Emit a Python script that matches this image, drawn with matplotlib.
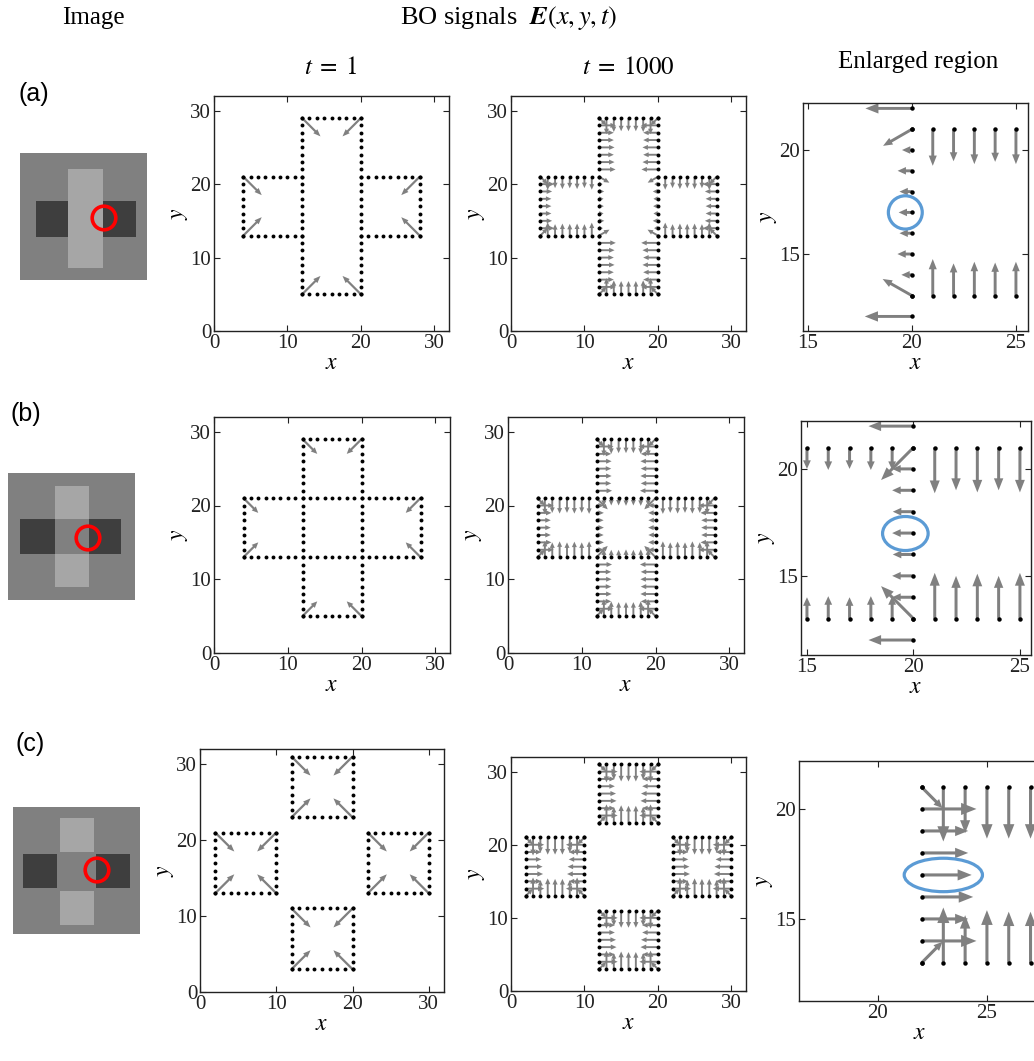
import numpy as np
import matplotlib.pyplot as plt
from matplotlib.patches import Circle, Ellipse

plt.rcParams['font.family'] = 'serif'
plt.rcParams['font.serif'] = ['Liberation Serif', 'DejaVu Serif']
plt.rcParams['mathtext.fontset'] = 'stix'

W, H = 1034, 1061
GREY = '#808080'
BLUE = '#5b9bd5'

# ---------------- input images (pixel rectangles on a 127 px canvas)
IMG_SIZE = 127
BG, LIGHT, DARK = 128, 166, 62
IMG_A = [((16, 116, 48, 84), DARK), ((48, 83, 16, 115), LIGHT)]
IMG_B = [((12, 113, 47, 81), DARK), ((47, 81, 14, 114), LIGHT), ((47, 81, 47, 81), BG)]
IMG_C = [((10, 44, 47, 81), DARK), ((83, 117, 47, 81), DARK),
         ((47, 81, 11, 45), LIGHT), ((47, 81, 84, 118), LIGHT)]
RED_A, RED_B, RED_C = (84, 65), (80, 65), (84, 63)
RED_R = 11.8

# ---------------- boundary outlines (segments of grid points)
OUT_A = [(12, 5, 12, 29), (20, 5, 20, 29), (12, 29, 20, 29), (12, 5, 20, 5),
         (4, 21, 12, 21), (20, 21, 28, 21), (4, 13, 12, 13), (20, 13, 28, 13),
         (4, 13, 4, 21), (28, 13, 28, 21)]
OUT_B = [(12, 5, 12, 29), (20, 5, 20, 29), (12, 29, 20, 29), (12, 5, 20, 5),
         (4, 21, 28, 21), (4, 13, 28, 13), (4, 13, 4, 21), (28, 13, 28, 21)]
SQUARES_C = [(12, 23), (2, 13), (22, 13), (12, 3)]   # lower-left corners, size 8

# ---------------- t = 1 corner arrows (x, y, u, v)
T1_A = [(12, 29, 2.5, -2.5), (20, 29, -2.5, -2.5), (4, 21, 2.5, -2.5), (4, 13, 2.5, 2.5),
        (28, 21, -2.5, -2.5), (28, 13, -2.5, 2.5), (12, 5, 2.5, 2.5), (20, 5, -2.5, 2.5)]
T1_B = [(12, 29, 2.0, -2.0), (20, 29, -2.0, -2.0), (4, 21, 2.0, -2.0), (4, 13, 2.0, 2.0),
        (28, 21, -2.0, -2.0), (28, 13, -2.0, 2.0), (12, 5, 2.0, 2.0), (20, 5, -2.0, 2.0)]
T1_C_LEN = 2.5

# ---------------- t = 1000 arrow lengths along edges
LA_SIDE_LOW = [2.3, 2.0, 2.0, 2.1, 2.0, 2.1, 2.27]       # y 6..12
LA_SIDE_MID = [0.51, 0.7, 0.6, 0.64, 0.6, 0.69, 0.48]    # y 14..20
LA_SIDE_HIGH = [2.24, 2.1, 2.0, 2.1, 2.0, 2.0, 2.3]      # y 22..28
LA_BAR_END = [2.2, 1.9, 1.8, 1.8, 1.8, 1.9, 2.2]
LA_ARM_TOP = [1.76, 1.54, 1.68, 1.57, 1.68, 1.55, 1.8]
LA_ARM_BOT = [1.76, 1.55, 1.63, 1.59, 1.63, 1.55, 1.8]
LA_ARM_END = [1.9, 1.6, 1.5, 1.5, 1.5, 1.6, 1.9]
LA_CORNERS = [(12, 29, 1, -1), (20, 29, -1, -1), (12, 5, 1, 1), (20, 5, -1, 1),
              (4, 21, 1, -1), (4, 13, 1, 1), (28, 21, -1, -1), (28, 13, -1, 1),
              (12, 21, 1.39, -0.8), (12, 13, 1.41, 0.8), (20, 21, -1.39, -0.8), (20, 13, -1.41, 0.8)]

LB_ARM_SIDE = [2.11, 2.0, 2.05, 2.0, 2.05, 2.0, 2.3]
LB_ARM_END = [2.3, 2.0, 1.9, 1.9, 1.9, 2.0, 2.3]
LB_DARK_TOP = [2.14, 2.0, 2.1, 2.0, 2.1, 2.0, 2.2]
LB_DARK_BOT = [2.14, 2.0, 2.1, 2.0, 2.14, 2.0, 2.2]
LB_DARK_END = [2.2, 1.9, 1.8, 1.8, 1.8, 1.9, 2.2]
LB_CEN_TOP = [1.05, 1.0, 1.0, 1.05, 1.0, 1.05, 1.05]
LB_CEN_SIDE = [1.0, 1.0, 0.97, 1.0, 0.97, 1.0, 1.0]
LB_CORNERS = [(12, 29, 1, -1), (20, 29, -1, -1), (12, 5, 1, 1), (20, 5, -1, 1),
              (4, 21, 1, -1), (4, 13, 1, 1), (28, 21, -1, -1), (28, 13, -1, 1),
              (12, 21, 1.52, -1.52), (20, 21, -1.52, -1.52), (12, 13, 1.52, 1.52), (20, 13, -1.52, 1.52)]

LC_SIDE = [2.52, 2.14, 2.14, 2.3, 2.37, 2.14, 2.52]     # top -> bottom
LC_TOP = [2.48, 2.1, 2.35, 2.35, 2.35, 2.1, 2.48]
LC_BOT = [2.52, 2.17, 2.4, 2.33, 2.33, 2.17, 2.52]
LC_DIAG = 0.96


def edge(x0, y0, x1, y1, ux=0, uy=0, lengths=None):
    n = int(max(abs(x1 - x0), abs(y1 - y0))) + 1
    xs, ys = np.linspace(x0, x1, n), np.linspace(y0, y1, n)
    L = np.zeros(n) if lengths is None else np.asarray(lengths, float)
    return np.column_stack([xs, ys, ux * L, uy * L])


def outline_points(segs):
    return np.vstack([edge(*s) for s in segs])[:, :2]


def square_segs(x0, y0):
    return [(x0, y0, x0 + 8, y0), (x0, y0 + 8, x0 + 8, y0 + 8),
            (x0, y0, x0, y0 + 8), (x0 + 8, y0, x0 + 8, y0 + 8)]


# t = 1000 field, panel (a)
FIELD_A = np.vstack([
    edge(20, 6, 20, 12, -1, 0, LA_SIDE_LOW), edge(12, 6, 12, 12, 1, 0, LA_SIDE_LOW),
    edge(20, 14, 20, 20, -1, 0, LA_SIDE_MID), edge(12, 14, 12, 20, 1, 0, LA_SIDE_MID),
    edge(20, 22, 20, 28, -1, 0, LA_SIDE_HIGH), edge(12, 22, 12, 28, 1, 0, LA_SIDE_HIGH),
    edge(13, 29, 19, 29, 0, -1, LA_BAR_END), edge(13, 5, 19, 5, 0, 1, LA_BAR_END),
    edge(21, 21, 27, 21, 0, -1, LA_ARM_TOP), edge(11, 21, 5, 21, 0, -1, LA_ARM_TOP),
    edge(21, 13, 27, 13, 0, 1, LA_ARM_BOT), edge(11, 13, 5, 13, 0, 1, LA_ARM_BOT),
    edge(28, 14, 28, 20, -1, 0, LA_ARM_END), edge(4, 14, 4, 20, 1, 0, LA_ARM_END),
    np.array(LA_CORNERS, float)])

# panel (b)
FIELD_B = np.vstack([
    edge(20, 22, 20, 28, -1, 0, LB_ARM_SIDE), edge(12, 22, 12, 28, 1, 0, LB_ARM_SIDE),
    edge(20, 12, 20, 6, -1, 0, LB_ARM_SIDE), edge(12, 12, 12, 6, 1, 0, LB_ARM_SIDE),
    edge(13, 29, 19, 29, 0, -1, LB_ARM_END), edge(13, 5, 19, 5, 0, 1, LB_ARM_END),
    edge(21, 21, 27, 21, 0, -1, LB_DARK_TOP), edge(11, 21, 5, 21, 0, -1, LB_DARK_TOP),
    edge(21, 13, 27, 13, 0, 1, LB_DARK_BOT), edge(11, 13, 5, 13, 0, 1, LB_DARK_BOT),
    edge(28, 14, 28, 20, -1, 0, LB_DARK_END), edge(4, 14, 4, 20, 1, 0, LB_DARK_END),
    edge(13, 21, 19, 21, 0, -1, LB_CEN_TOP), edge(13, 13, 19, 13, 0, 1, LB_CEN_TOP),
    edge(20, 14, 20, 20, -1, 0, LB_CEN_SIDE), edge(12, 14, 12, 20, 1, 0, LB_CEN_SIDE),
    np.array(LB_CORNERS, float)])

# panel (c)
c_parts, t1_c = [], []
for x0, y0 in SQUARES_C:
    c_parts += [edge(x0, y0 + 7, x0, y0 + 1, 1, 0, LC_SIDE),
                edge(x0 + 8, y0 + 7, x0 + 8, y0 + 1, -1, 0, LC_SIDE),
                edge(x0 + 1, y0 + 8, x0 + 7, y0 + 8, 0, -1, LC_TOP),
                edge(x0 + 1, y0, x0 + 7, y0, 0, 1, LC_BOT)]
    for cx, cy, sx, sy in [(x0, y0, 1, 1), (x0 + 8, y0, -1, 1),
                           (x0, y0 + 8, 1, -1), (x0 + 8, y0 + 8, -1, -1)]:
        c_parts.append(np.array([[cx, cy, sx * LC_DIAG, sy * LC_DIAG]]))
        t1_c.append((cx, cy, sx * T1_C_LEN, sy * T1_C_LEN))
FIELD_C = np.vstack(c_parts)
OUT_C = [s for sq in SQUARES_C for s in square_segs(*sq)]


def px(l, t, w, h):
    return [l / W, 1 - (t + h) / H, w / W, h / H]


def draw_arrows(ax, arrows, shaft, hfrac=0.22, hmin=2.6):
    for x, y, u, v in np.asarray(arrows, float):
        L = np.hypot(u, v)
        hw = max(hfrac * L, hmin * shaft)
        hl = min(max(0.28 * L, 1.1 * hw), 0.95 * L)
        ax.arrow(x, y, u, v, width=shaft, head_width=hw, head_length=hl,
                 length_includes_head=True, color=GREY, lw=0, zorder=2)


def field_panel(pos, outline, arrows, shaft, ms, xlim, ylim, xt, yt, hfrac=0.22):
    ax = fig.add_axes(px(*pos))
    draw_arrows(ax, arrows, shaft, hfrac)
    pts = outline_points(outline)
    ax.plot(pts[:, 0], pts[:, 1], 'o', ms=ms, color='k', mec='none', zorder=3)
    ax.set_xlim(*xlim)
    ax.set_ylim(*ylim)
    ax.set_xticks(xt)
    ax.set_yticks(yt)
    ax.tick_params(direction='in', top=True, right=True, length=4, width=0.8,
                   labelsize=15, pad=2, colors='#222222')
    for s in ax.spines.values():
        s.set_linewidth(1.0)
        s.set_color('#222222')
    ax.set_xlabel('$x$', fontsize=17, labelpad=0)
    ax.set_ylabel('$y$', fontsize=17, labelpad=0)
    return ax


def image_panel(pos, rects, red):
    ax = fig.add_axes(px(*pos))
    img = np.full((IMG_SIZE, IMG_SIZE), BG, float)
    for (c0, c1, r0, r1), val in rects:
        img[r0:r1, c0:c1] = val
    ax.imshow(img, cmap='gray', vmin=0, vmax=255, interpolation='nearest',
              extent=(0, IMG_SIZE, IMG_SIZE, 0))
    ax.add_patch(Circle(red, RED_R, fill=False, ec='red', lw=2.6))
    ax.set_xlim(0, IMG_SIZE)
    ax.set_ylim(IMG_SIZE, 0)
    ax.axis('off')


fig = plt.figure(figsize=(W / 100, H / 100), dpi=100)

full = dict(xlim=(0, 32), ylim=(0, 32), xt=[0, 10, 20, 30], yt=[0, 10, 20, 30])

# row (a)
image_panel((20, 153, 127, 127), IMG_A, RED_A)
field_panel((214, 96, 235, 235), OUT_A, T1_A, 0.3, 2.8, **full)
field_panel((511, 96, 235, 235), OUT_A, FIELD_A, 0.26, 2.8, hfrac=0.3, **full)
ax = field_panel((803, 103, 225, 228), OUT_A, FIELD_A, 0.14, 3.2,
                 (14.76, 25.58), (11.3, 22.26), [15, 20, 25], [15, 20])
ax.add_patch(Ellipse((19.68, 17.0), 1.63, 1.6, fill=False, ec=BLUE, lw=2.3, zorder=4))

# row (b)
image_panel((8, 473, 127, 127), IMG_B, RED_B)
field_panel((214, 417, 236, 236), OUT_B, T1_B, 0.3, 2.8, **full)
field_panel((508, 417, 236, 236), OUT_B, FIELD_B, 0.26, 2.8, hfrac=0.3, **full)
ax = field_panel((801, 421, 230, 234), OUT_B, FIELD_B, 0.14, 3.2,
                 (14.72, 25.52), (11.3, 22.24), [15, 20, 25], [15, 20])
ax.add_patch(Ellipse((19.62, 16.98), 2.14, 1.59, fill=False, ec=BLUE, lw=2.3, zorder=4))

# row (c)
image_panel((13, 807, 127, 127), IMG_C, RED_C)
field_panel((200, 749, 244, 243), OUT_C, t1_c, 0.3, 2.8, **full)
field_panel((511, 757, 235, 234), OUT_C, FIELD_C, 0.26, 2.8, hfrac=0.3, **full)
ax = field_panel((799, 761, 242, 240), OUT_C, FIELD_C, 0.14, 3.2,
                 (16.38, 27.48), (11.27, 22.18), [20, 25], [15, 20])
ax.add_patch(Ellipse((23.0, 17.0), 3.59, 1.52, fill=False, ec=BLUE, lw=2.3, zorder=4))

# headings
def ftext(x, y, s, **kw):
    fig.text(x / W, 1 - y / H, s, ha='center', va='center', **kw)

ftext(93, 18, 'Image', fontsize=18)
ftext(509, 18, r'BO signals  $\mathbfit{E}(x, y, t)$', fontsize=19)
ftext(331, 68, r'$t\;=\;1$', fontsize=18)
ftext(628, 68, r'$t\;=\;1000$', fontsize=18)
ftext(918, 62, 'Enlarged region', fontsize=18)
for lab, (x, y) in zip(['(a)', '(b)', '(c)'], [(34, 94), (26, 414), (30, 744)]):
    ftext(x, y, lab, fontsize=18, family='Liberation Sans')

fig.savefig('out.png', dpi=100)
